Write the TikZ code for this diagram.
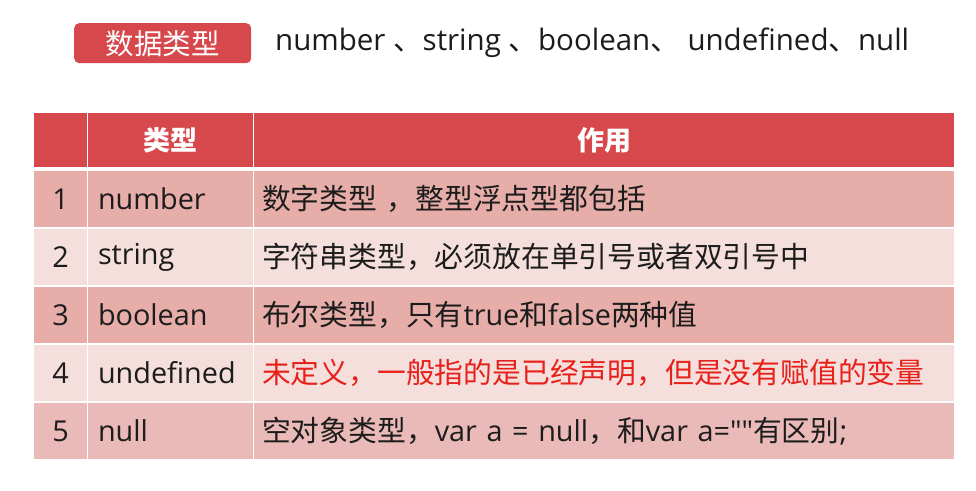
\documentclass[tikz,border=0pt]{standalone}
\usepackage{fontspec}
\setmainfont{Noto Sans CJK SC}
\newfontfamily\latfont{Open Sans}
\newcommand\lat[1]{{\latfont #1}}
\usetikzlibrary{positioning}

\definecolor{hdred}{RGB}{214,72,76}
\definecolor{rowdark}{RGB}{230,173,169}
\definecolor{rowlight}{RGB}{244,223,221}
\definecolor{rowlast}{RGB}{233,186,183}
\definecolor{warnred}{RGB}{232,32,26}
\definecolor{ink}{RGB}{28,28,28}

\begin{document}
\begin{tikzpicture}[x=1pt,y=-1pt,
  cell/.style={anchor=north west,inner sep=0pt,outer sep=0pt,minimum height=56pt,
    text=ink,font=\fontsize{28.8}{31}\selectfont},
  hdcell/.style={cell,fill=hdred,minimum height=54pt,text=white,
    font=\fontsize{27}{30}\selectfont\bfseries},
  numcell/.style={cell,minimum width=53pt,font=\fontsize{28.8}{31}\selectfont\latfont},
  typecell/.style={cell,text width=145pt,inner xsep=10pt,align=left,
    font=\fontsize{28.8}{31}\selectfont\latfont},
  desccell/.style={cell,text width=684pt,inner xsep=8pt,align=left}]
\useasboundingbox (0,0) rectangle (976,490);

\draw (74,23)  node (t1) [anchor=north west,fill=hdred,rounded corners=5pt,
  minimum width=177pt,minimum height=40pt,text=white,
  font=\fontsize{28.5}{31}\selectfont] {数据类型};
\draw (275,43) node (t2) [anchor=west,inner sep=0pt,text=ink,font=\fontsize{29.5}{32}\selectfont]
  {\lat{number }、\lat{string }、\lat{boolean}、\lat{ undefined}、\lat{null}};

% header
\draw (34,113)  node (01) [hdcell,minimum width=53pt]  {};
\draw (88,113)  node (02) [hdcell,minimum width=165pt] {类型};
\draw (254,113) node (03) [hdcell,minimum width=700pt] {作用};

\draw (34,171)  node (11) [numcell,fill=rowdark]  {1};
\draw (88,171)  node (12) [typecell,fill=rowdark] {number};
\draw (254,171) node (13) [desccell,fill=rowdark] {数字类型 ，整型浮点型都包括};

\draw (34,229)  node (21) [numcell,fill=rowlight]  {2};
\draw (88,229)  node (22) [typecell,fill=rowlight] {string};
\draw (254,229) node (23) [desccell,fill=rowlight] {字符串类型，必须放在单引号或者双引号中};

\draw (34,287)  node (31) [numcell,fill=rowdark]  {3};
\draw (88,287)  node (32) [typecell,fill=rowdark] {boolean};
\draw (254,287) node (33) [desccell,fill=rowdark] {布尔类型，只有\lat{true}和\lat{false}两种值};

\draw (34,345)  node (41) [numcell,fill=rowlight]  {4};
\draw (88,345)  node (42) [typecell,fill=rowlight] {undefined};
\draw (254,345) node (43) [desccell,fill=rowlight,text=warnred]
  {未定义，一般指的是已经声明，但是没有赋值的变量};

\draw (34,403)  node (51) [numcell,fill=rowlast]  {5};
\draw (88,403)  node (52) [typecell,fill=rowlast] {null};
\draw (254,403) node (53) [desccell,fill=rowlast]
  {空对象类型，\lat{var a = null}，和\lat{var a=\char34\char34}有区别\lat{;}};
\end{tikzpicture}
\end{document}
